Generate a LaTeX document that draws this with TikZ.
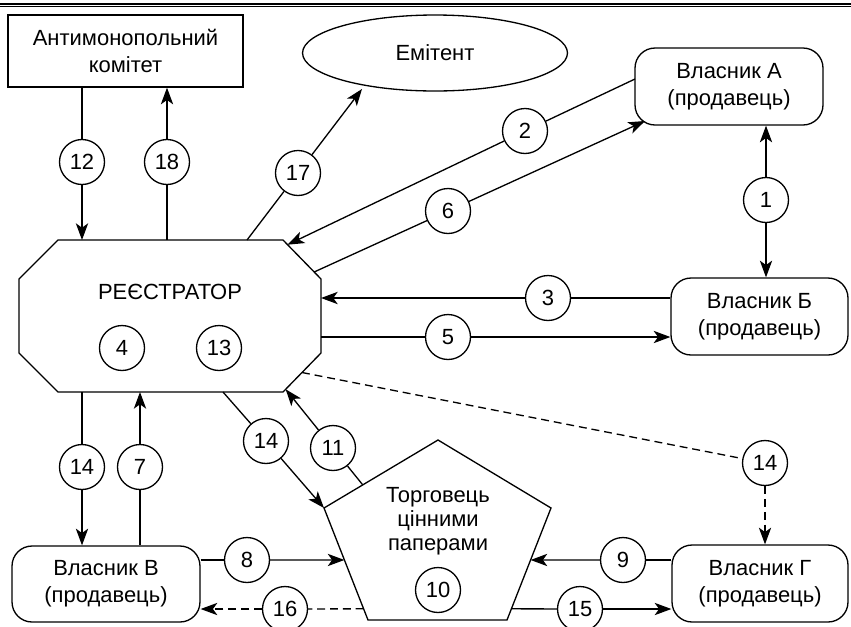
\documentclass[tikz,border=0pt]{standalone}
\usepackage{fontspec}
\setmainfont{Liberation Sans}
\usetikzlibrary{arrows.meta,shapes.geometric,calc}

\begin{document}
\begin{tikzpicture}[x=0.02cm, y=-0.02cm, line width=0.75pt,
    font=\fontsize{12.5}{15.5}\selectfont,
    num/.style={draw, circle, minimum size=0.9cm, inner sep=0pt},
    owner/.style={draw, rounded corners=0.4cm, minimum width=3.76cm, minimum height=1.54cm, align=center},
    arr/.style={-{Stealth[length=9.5pt, width=7pt, inset=2.5pt]}},
    dsh/.style={dash pattern=on 4.5pt off 2.8pt}]
        \useasboundingbox (0,0) rectangle (851,626);

        % Подвійна лінія зверху
        \draw[line width=1.1pt] (0,3.8) -- (851,3.8);
        \draw[line width=0.5pt] (0,6.8) -- (851,6.8);

        % Учасники
        \node[draw, minimum width=4.7cm, minimum height=1.44cm, align=center] (kom) at (125.5,51) {Антимонопольний\\комітет};
        \node[draw, ellipse, minimum width=5.3cm, minimum height=1.52cm] (em) at (435,53) {Емітент};
        \node[owner] (vlA) at (729,86.5) {Власник А\\(продавець)};
        \node[owner, minimum width=3.54cm] (vlB) at (759.5,316.5) {Власник Б\\(продавець)};
        \node[owner, minimum height=1.52cm] (vlV) at (106,584) {Власник В\\(продавець)};
        \node[owner, minimum width=3.52cm] (vlG) at (760,583.5) {Власник Г\\(продавець)};

        % Реєстратор
        \coordinate (r1) at (58,240);
        \coordinate (r2) at (283,240);
        \coordinate (r3) at (321,279);
        \coordinate (r4) at (321,353);
        \coordinate (r5) at (283,392);
        \coordinate (r6) at (58,392);
        \coordinate (r7) at (19,353);
        \coordinate (r8) at (19,279);
        \draw (r1) -- (r2) -- (r3) -- (r4) -- (r5) -- (r6) -- (r7) -- (r8) -- cycle;
        \node (reg) at (170,292) {РЕЄСТРАТОР};
        \node[num] (n4) at (122,348) {4};
        \node[num] (n13) at (219,348) {13};

        % Торговець цінними паперами
        \coordinate (p1) at (438,440);
        \coordinate (p2) at (551,508);
        \coordinate (p3) at (507,620);
        \coordinate (p4) at (368,620);
        \coordinate (p5) at (324,508);
        \draw (p1) -- (p2) -- (p3) -- (p4) -- (p5) -- cycle;
        \node[align=center, font=\fontsize{12.5}{13.8}\selectfont] (trd) at (438,521) {Торговець\\цінними\\паперами};
        \node[num] (n10) at (438,590) {10};

        % Точки на межах фігур
        \coordinate (o17) at (247,240);
        \coordinate (o2) at ($(r2)!0.12!(r3)$);
        \coordinate (o6) at ($(r2)!0.82!(r3)$);
        \coordinate (o14d) at ($(r4)!0.5!(r5)$);
        \coordinate (o11) at ($(r4)!0.93!(r5)$);
        \coordinate (o14) at (223,392);
        \coordinate (e17) at (362,89);
        \coordinate (a2) at (635,79);
        \coordinate (a6) at (645,121);
        \coordinate (t11) at ($(p5)!0.34!(p1)$);
        \coordinate (t8) at ($(p5)!0.464!(p4)$);
        \coordinate (t16) at ($(p5)!0.9!(p4)$);
        \coordinate (t9) at ($(p2)!0.464!(p3)$);
        \coordinate (t15) at ($(p2)!0.9!(p3)$);

        % Номери зв'язків
        \node[num] (n1) at (766,200) {1};
        \node[num] (n2) at (525,131) {2};
        \node[num] (n3) at (548,298) {3};
        \node[num] (n5) at (448,337) {5};
        \node[num] (n6) at (448,211) {6};
        \node[num] (n7) at (140,467) {7};
        \node[num] (n8) at (247,560) {8};
        \node[num] (n9) at (623,560) {9};
        \node[num] (n11) at (333,448) {11};
        \node[num] (n12) at (82,162) {12};
        \node[num] (n14v) at (82,467) {14};
        \node[num] (n14t) at (266,441) {14};
        \node[num] (n14g) at (765,463) {14};
        \node[num] (n15) at (580,609) {15};
        \node[num] (n16) at (285,609) {16};
        \node[num] (n17) at (298,173) {17};
        \node[num] (n18) at (167,162) {18};

        % Стрілки
        \draw[arr] (n1) -- (n1 |- vlA.south);
        \draw[arr] (n1) -- (n1 |- vlB.north);
        \draw (a2) -- (n2);
        \draw[arr] (n2) -- (o2);
        \draw (n3 -| vlB.west) -- (n3);
        \draw[arr] (n3) -- (n3 -| r3);
        \draw (n5 -| r3) -- (n5);
        \draw[arr] (n5) -- (n5 -| vlB.west);
        \draw (o6) -- (n6);
        \draw[arr] (n6) -- (a6);
        \draw (n7 |- vlV.north) -- (n7);
        \draw[arr] (n7) -- (n7 |- r6);
        \draw (n8 -| vlV.east) -- (n8);
        \draw[arr] (n8) -- (t8);
        \draw (n9 -| vlG.west) -- (n9);
        \draw[arr] (n9) -- (t9);
        \draw (t11) -- (n11);
        \draw[arr] (n11) -- (o11);
        \draw (n12 |- kom.south) -- (n12);
        \draw[arr] (n12) -- (n12 |- r1);
        \draw (n14v |- r6) -- (n14v);
        \draw[arr] (n14v) -- (n14v |- vlV.north);
        \draw (o14) -- (n14t);
        \draw[arr] (n14t) -- (p5);
        \draw[dsh] (o14d) -- (n14g);
        \draw[dsh, arr] (n14g) -- (n14g |- vlG.north);
        \draw (t15) -- (n15);
        \draw[arr] (n15) -- (n15 -| vlG.west);
        \draw[dsh] (t16) -- (n16);
        \draw[dsh, arr] (n16) -- (n16 -| vlV.east);
        \draw (o17) -- (n17);
        \draw[arr] (n17) -- (e17);
        \draw (n18 |- r1) -- (n18);
        \draw[arr] (n18) -- (n18 |- kom.south);
\end{tikzpicture}
\end{document}
